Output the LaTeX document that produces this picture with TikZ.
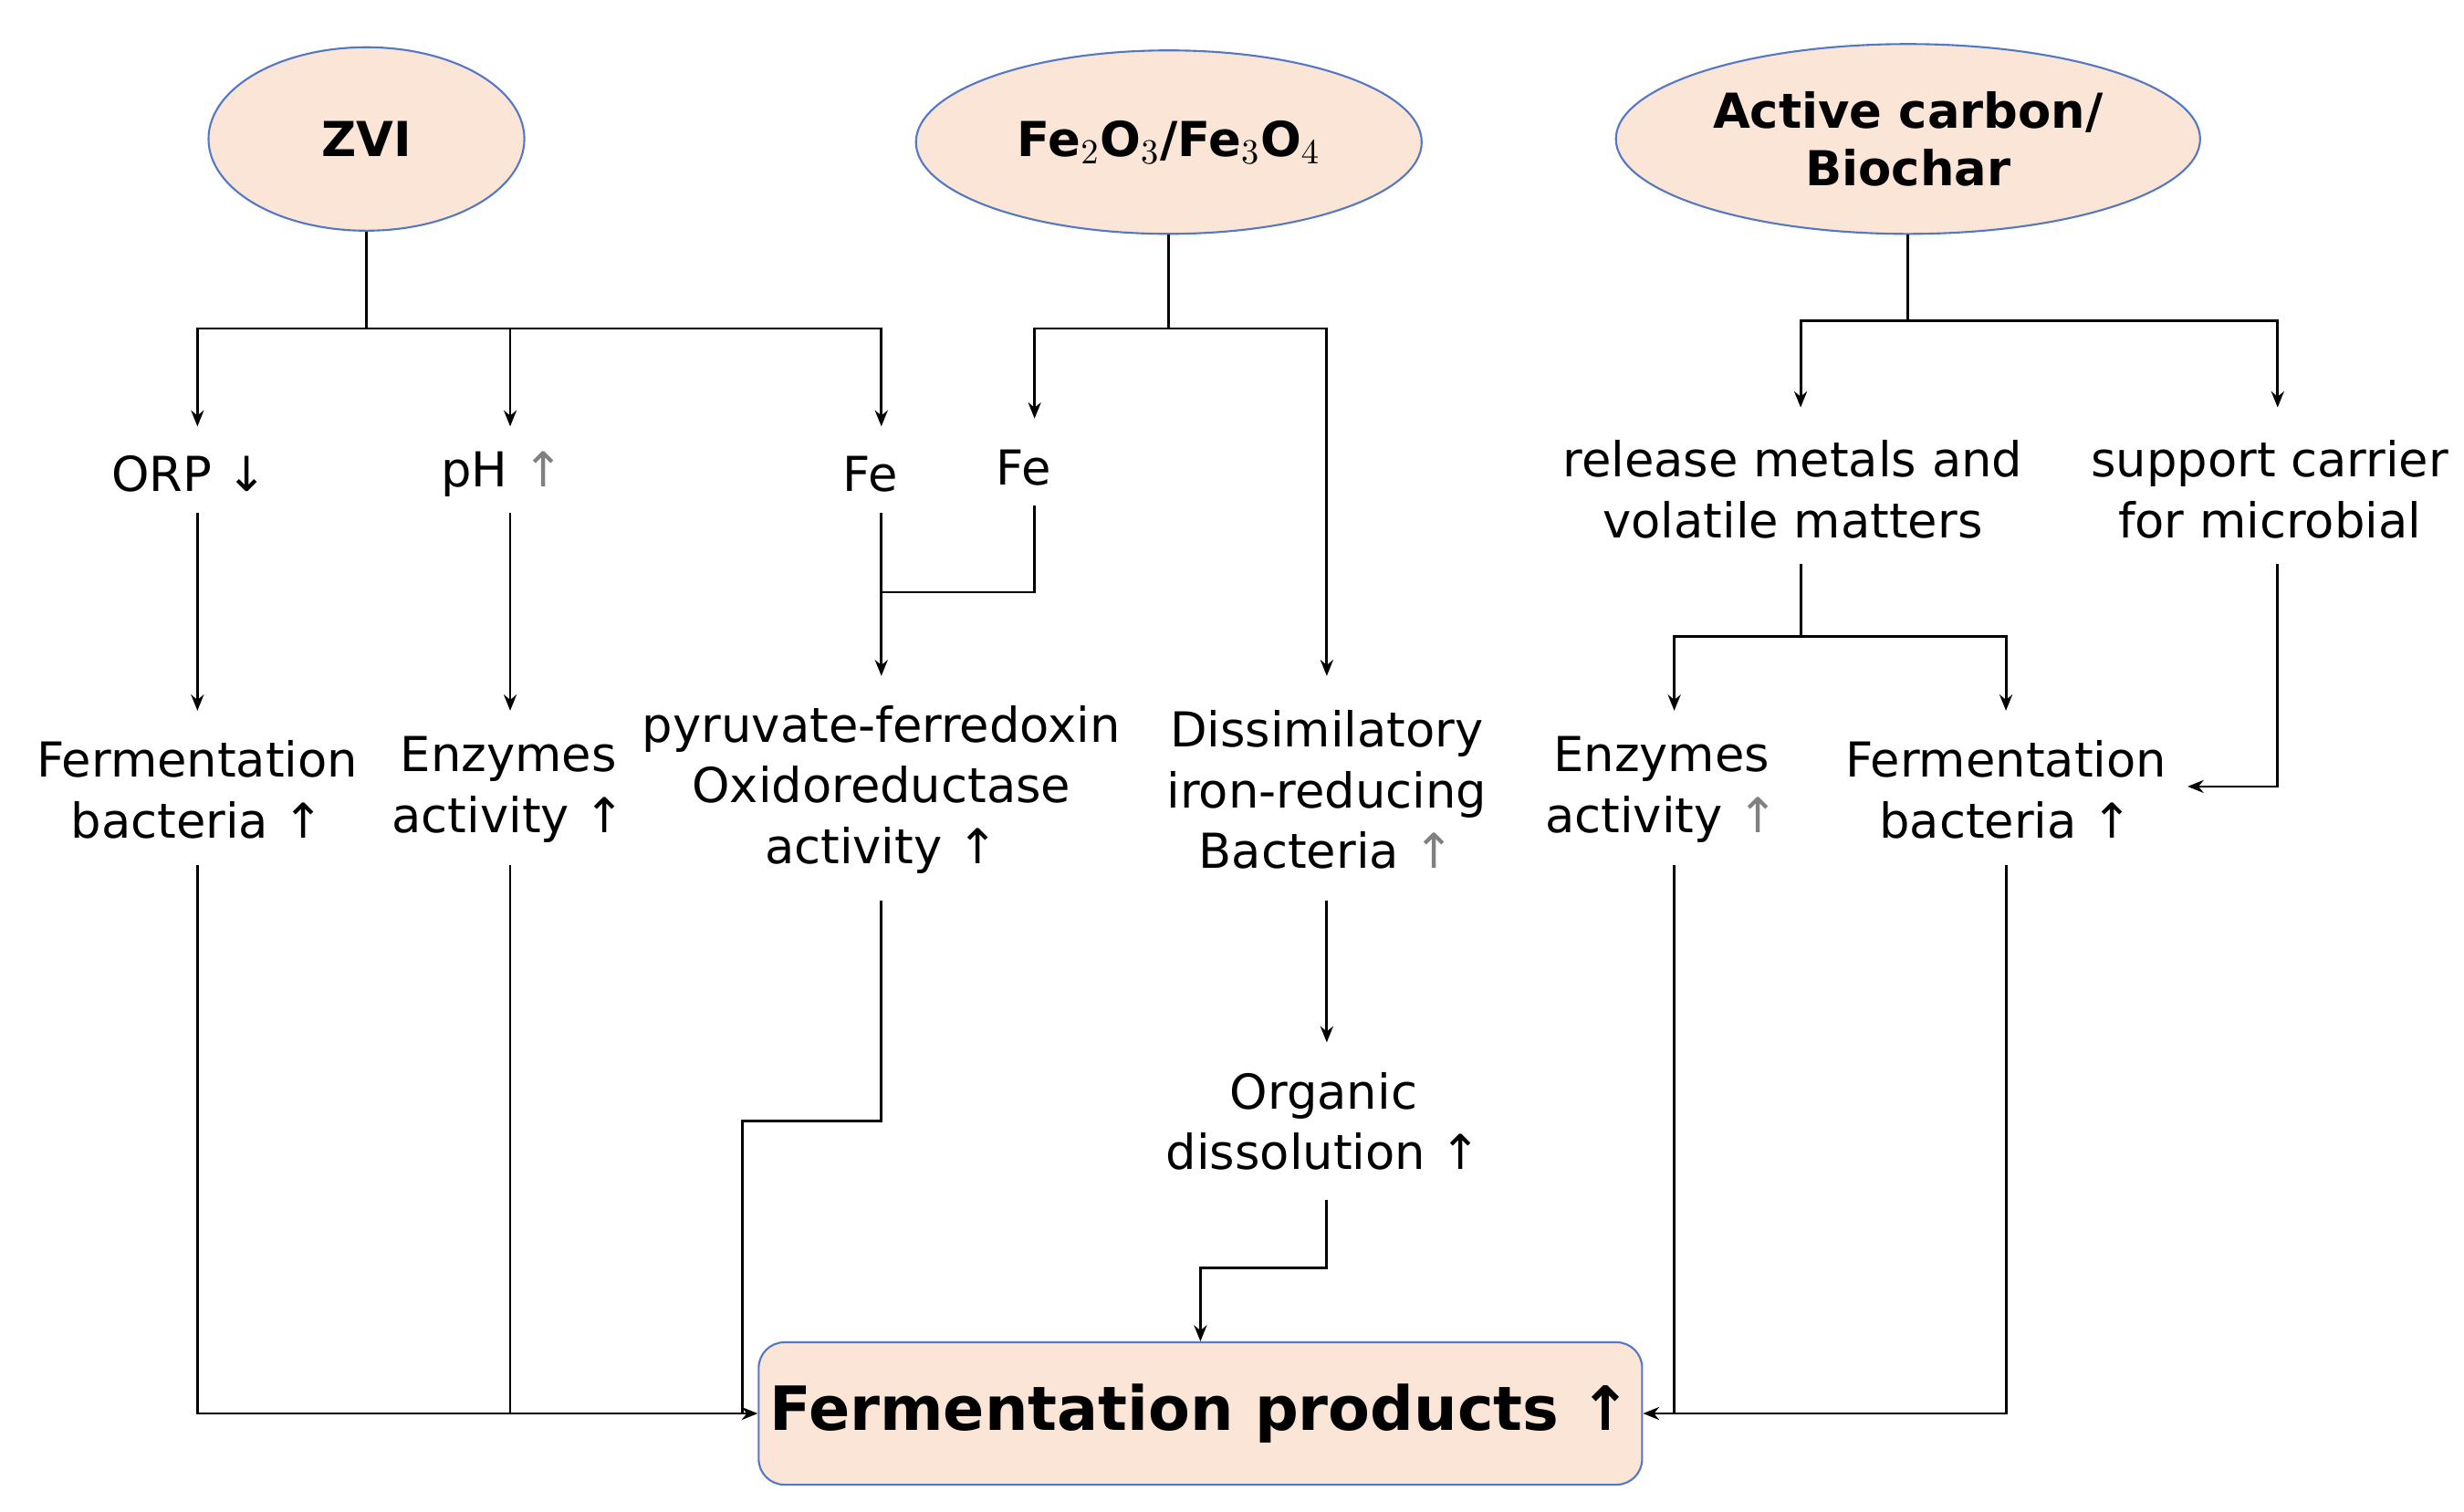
\documentclass[tikz,border=0pt]{standalone}
\usepackage{fontspec}
\setmainfont{DejaVu Sans}
\usetikzlibrary{arrows.meta,shapes.geometric}
\definecolor{peach}{RGB}{251,229,214}
\definecolor{rimblue}{RGB}{84,120,196}
\begin{document}
\begin{tikzpicture}[x=0.01731cm,y=-0.01731cm]
  \tikzset{
    src/.style={ellipse,draw=rimblue,fill=peach,line width=0.6pt,font=\fontsize{15}{18}\selectfont\bfseries,align=center,inner sep=0pt},
    lbl/.style={align=center,font=\fontsize{15}{19}\selectfont,inner sep=1pt},
    link/.style={line width=0.8pt},
    arr/.style={link,-{Stealth[length=5pt,width=4pt]}},
  }
  \useasboundingbox (0,0) rectangle (1560,957);
  % sources
  \node[src,minimum width=3.46cm,minimum height=2.01cm] (zvi) at (232,88) {ZVI};
  \node[src,minimum width=5.54cm,minimum height=2.01cm] (feox) at (740,90) {Fe$_2$O$_3$/Fe$_3$O$_4$};
  \node[src,minimum width=6.40cm,minimum height=2.08cm] (carb) at (1208,88) {Active carbon/\\Biochar};
  % first level
  \node[lbl] (orp) at (120,300) {ORP ↓};
  \node[lbl] (ph) at (318,300) {pH \textcolor{gray}{↑}};
  \node[lbl] (fea) at (551,300) {Fe};
  \node[lbl] (feb) at (648,296) {Fe};
  \node[lbl] (rel) at (1135,310) {release metals and\\volatile matters};
  \node[lbl] (sup) at (1437,310) {support carrier\\for microbial};
  % second level
  \node[lbl] (fb1) at (125,500) {Fermentation\\bacteria ↑};
  \node[lbl] (en1) at (322,500) {Enzymes\\activity ↑};
  \node[lbl] (pyr) at (558,500) {pyruvate-ferredoxin\\Oxidoreductase\\activity ↑};
  \node[lbl] (dis) at (840,500) {Dissimilatory\\iron-reducing\\Bacteria \textcolor{gray}{↑}};
  \node[lbl] (en2) at (1052,500) {Enzymes\\activity \textcolor{gray}{↑}};
  \node[lbl] (fb2) at (1270,500) {Fermentation\\bacteria ↑};
  \node[lbl] (org) at (838,710) {Organic\\dissolution ↑};
  % product
  \node[draw=rimblue,fill=peach,rounded corners=8pt,line width=0.6pt,minimum width=9.09cm,minimum height=1.56cm,font=\fontsize{19}{22}\selectfont\bfseries] (prod) at (760,895) {Fermentation products ↑};
  % branch points
  \coordinate (zj) at (232,208);
  \coordinate (fj) at (740,208);
  \coordinate (cj) at (1208,203);
  \coordinate (rj) at (1140,403);
  \coordinate (fe) at (558,375);
  \coordinate (od) at (760,803);
  \coordinate (py) at (470,710);
  \draw[link] (zvi.south) -- (zj);
  \draw[arr] (zj) -| (125,270);
  \draw[arr] (zj) -| (323,270);
  \draw[arr] (zj) -| (558,270);
  \draw[link] (feox.south) -- (fj);
  \draw[arr] (fj) -| (655,265);
  \draw[arr] (fj) -| (840,428);
  \draw[link] (carb.south) -- (cj);
  \draw[arr] (cj) -| (1140,258);
  \draw[arr] (cj) -| (1442,258);
  \draw[arr] (125,325) -- (125,450);
  \draw[arr] (323,325) -- (323,450);
  \draw[arr] (558,325) -- (558,428);
  \draw[link] (655,320) |- (fe);
  \draw[link] (1140,357) -- (rj);
  \draw[arr] (rj) -| (1060,450);
  \draw[arr] (rj) -| (1270,450);
  \draw[arr] (1442,357) |- (1385,498);
  \draw[arr] (840,570) -- (840,660);
  \draw[arr] (840,760) |- (od) -- (od |- prod.north);
  \draw[arr] (125,548) |- (prod.west);
  \draw[link] (323,548) -- (323,895);
  \draw[link] (558,570) |- (py) -- (py |- prod.west);
  \draw[arr] (1270,548) |- (prod.east);
  \draw[link] (1060,548) -- (1060,895);
\end{tikzpicture}
\end{document}
